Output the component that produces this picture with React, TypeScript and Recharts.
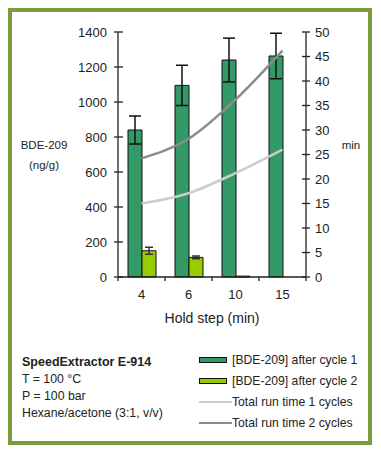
import { ComposedChart, Bar, Line, XAxis, YAxis, ErrorBar, Label } from 'recharts';

const steps = ['4', '6', '10', '15'];
const cycle1 = [840, 1095, 1240, 1263];
const cycle1Err = [80, 115, 125, 130];
const cycle2 = [150, 112, 5, 0];
const cycle2Err = [20, 8, 0, 0];
const runTime1 = [15, 17.1, 21.2, 26];
const runTime2 = [24.2, 28.2, 36.2, 46.2];
const leftTicks = [0, 200, 400, 600, 800, 1000, 1200, 1400];
const rightTicks = [0, 5, 10, 15, 20, 25, 30, 35, 40, 45, 50];

const data = steps.map((step, i) => ({
  step,
  cycle1: cycle1[i],
  cycle1Err: cycle1Err[i],
  cycle2: cycle2[i],
  cycle2Err: cycle2Err[i],
  run1: runTime1[i],
  run2: runTime2[i],
}));

const axisColor = '#222';
const textColor = '#222';
const font = '"Liberation Sans", Arial, sans-serif';

const LeftTick = (props: any) => {
  const { x, y, payload } = props;
  return (
    <g>
      <line x1={x - 4} x2={x + 5} y1={y} y2={y} stroke={axisColor} strokeWidth={1.3} />
      <text x={x - 11} y={y} dy="0.35em" textAnchor="end" fontSize={13} fill={textColor} fontFamily={font}>
        {payload.value}
      </text>
    </g>
  );
};

const RightTick = (props: any) => {
  const { x, y, payload } = props;
  return (
    <g>
      <line x1={x - 4} x2={x + 4} y1={y} y2={y} stroke={axisColor} strokeWidth={1.3} />
      <text x={x + 9} y={y} dy="0.35em" textAnchor="start" fontSize={13} fill={textColor} fontFamily={font}>
        {payload.value}
      </text>
    </g>
  );
};

const BottomTick = (props: any) => {
  const { x, y, payload, index } = props;
  const off = payload.offset ?? 23.5;
  return (
    <g>
      <line x1={x - off} x2={x - off} y1={y} y2={y + 4} stroke={axisColor} strokeWidth={1.3} />
      {index === steps.length - 1 && (
        <line x1={x + off} x2={x + off} y1={y} y2={y + 4} stroke={axisColor} strokeWidth={1.3} />
      )}
      <text x={x} y={y + 22} textAnchor="middle" fontSize={13} fill={textColor} fontFamily={font}>
        {payload.value}
      </text>
    </g>
  );
};

const legendRows = [
  { label: '[BDE-209] after cycle 1', kind: 'bar', color: '#339966' },
  { label: '[BDE-209] after cycle 2', kind: 'bar', color: '#99cc00' },
  { label: 'Total run time 1 cycles', kind: 'line', color: '#cccccc' },
  { label: 'Total run time 2 cycles', kind: 'line', color: '#8c8c8c' },
];

export default function App() {
  return (
    <div
      style={{
        position: 'relative',
        width: 364,
        height: 437,
        boxSizing: 'border-box',
        border: '4px solid #7d9b3f',
        background: '#fff',
        fontFamily: font,
        color: textColor,
      }}
    >
      <ComposedChart width={356} height={320} data={data} margin={{ top: 20, right: 0, bottom: 0, left: 0 }} barGap={0}>
        <XAxis
          dataKey="step"
          height={55}
          interval={0}
          tickSize={0}
          tickMargin={0}
          tickLine={false}
          tick={<BottomTick />}
          axisLine={{ stroke: axisColor, strokeWidth: 1.3 }}
        >
          <Label
            content={(p: any) => {
              const vb = p.viewBox;
              return (
                <text x={vb.x + vb.width / 2} y={vb.y + 46} textAnchor="middle" fontSize={14} fill={textColor} fontFamily={font}>
                  Hold step (min)
                </text>
              );
            }}
          />
        </XAxis>
        <YAxis
          yAxisId="left"
          width={106}
          domain={[0, 1400]}
          ticks={leftTicks}
          interval={0}
          tickSize={0}
          tickMargin={0}
          tickLine={false}
          tick={<LeftTick />}
          axisLine={{ stroke: axisColor, strokeWidth: 1.3 }}
        >
          <Label
            content={(p: any) => {
              const vb = p.viewBox;
              const cx = vb.x + 32;
              const cy = vb.y + vb.height / 2;
              return (
                <text textAnchor="middle" fontSize={11.5} fill={textColor} fontFamily={font}>
                  <tspan x={cx} y={cy - 6}>BDE-209</tspan>
                  <tspan x={cx} y={cy + 14}>(ng/g)</tspan>
                </text>
              );
            }}
          />
        </YAxis>
        <YAxis
          yAxisId="right"
          orientation="right"
          width={62}
          domain={[0, 50]}
          ticks={rightTicks}
          interval={0}
          tickSize={0}
          tickMargin={0}
          tickLine={false}
          tick={<RightTick />}
          axisLine={{ stroke: axisColor, strokeWidth: 1.3 }}
        >
          <Label
            content={(p: any) => {
              const vb = p.viewBox;
              return (
                <text x={vb.x + 45} y={vb.y + vb.height / 2 - 6} textAnchor="middle" fontSize={11.5} fill={textColor} fontFamily={font}>
                  min
                </text>
              );
            }}
          />
        </YAxis>
        <Bar yAxisId="left" dataKey="cycle1" barSize={14} fill="#339966" stroke="#111" strokeWidth={1} isAnimationActive={false}>
          <ErrorBar dataKey="cycle1Err" width={6} stroke="#111" strokeWidth={1.5} />
        </Bar>
        <Bar yAxisId="left" dataKey="cycle2" barSize={14} fill="#99cc00" stroke="#111" strokeWidth={1} isAnimationActive={false}>
          <ErrorBar dataKey="cycle2Err" width={4} stroke="#333" strokeWidth={1.5} />
        </Bar>
        <Line yAxisId="right" type="monotone" dataKey="run1" stroke="#cccccc" strokeWidth={2.5} dot={false} isAnimationActive={false} />
        <Line yAxisId="right" type="monotone" dataKey="run2" stroke="#8c8c8c" strokeWidth={2.5} dot={false} isAnimationActive={false} />
      </ComposedChart>

      <div style={{ position: 'absolute', left: 10, top: 342, fontSize: 12.3, lineHeight: '17px' }}>
        <div style={{ fontWeight: 'bold', fontSize: 12.5 }}>SpeedExtractor E-914</div>
        <div>T = 100 °C</div>
        <div>P = 100 bar</div>
        <div>Hexane/acetone (3:1, v/v)</div>
      </div>

      <div style={{ position: 'absolute', left: 187, top: 337, fontSize: 12.2 }}>
        {legendRows.map((r) => (
          <div key={r.label} style={{ display: 'flex', alignItems: 'center', height: 21, whiteSpace: 'nowrap' }}>
            <div style={{ width: 33, display: 'flex', alignItems: 'center' }}>
              {r.kind === 'bar' ? (
                <div style={{ width: 28, height: 6, boxSizing: 'border-box', border: '1px solid #111', background: r.color }} />
              ) : (
                <div style={{ width: 33, height: 2, background: r.color }} />
              )}
            </div>
            <span>{r.label}</span>
          </div>
        ))}
      </div>
    </div>
  );
}
